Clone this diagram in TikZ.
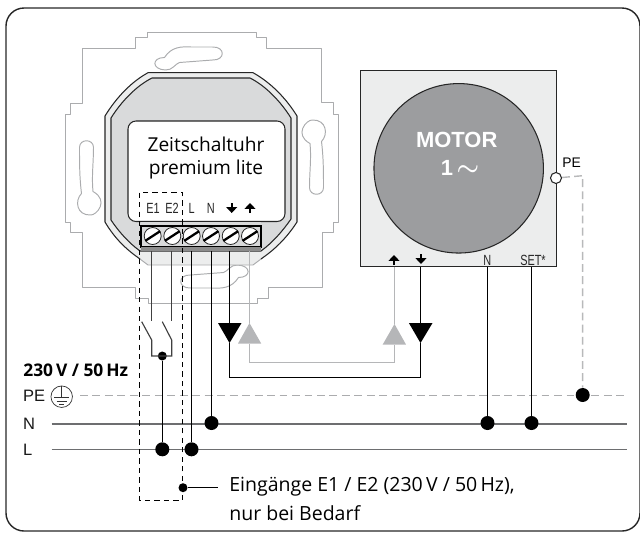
\documentclass[tikz,border=0pt]{standalone}
\usepackage{fontspec}
\usepackage{amsmath}
\setmainfont{Open Sans}
\newfontfamily\helvfont{Liberation Sans}
\newfontfamily\narrowfont[FakeStretch=0.74]{Liberation Sans}
\usetikzlibrary{arrows.meta}
\definecolor{platelight}{HTML}{ECEDED}
\definecolor{platemid}{HTML}{D9DADB}
\definecolor{motorgray}{HTML}{9C9D9F}
\definecolor{busgray}{HTML}{6D6E70}
\definecolor{wiregray}{HTML}{B5B6B8}
\definecolor{outlinegray}{HTML}{ABACAE}
\tikzstyle{frameline}=[black!85, line width=0.8pt, rounded corners=0.36cm]
\tikzstyle{plateline}=[outlinegray, line width=0.55pt, line join=round]
\tikzstyle{caseline}=[black!85, line width=0.6pt]
\tikzstyle{screwnode}=[circle, draw=black!85, fill=white, line width=0.45pt, inner sep=0, minimum size=0.34cm]
\tikzstyle{screwline}=[black, line width=1.3pt]
\tikzstyle{dotnode}=[circle, fill=black, inner sep=0, minimum size=0.28cm]
\tikzstyle{smalldot}=[circle, fill=black, inner sep=0, minimum size=0.18cm]
\tikzstyle{blackline}=[black, line width=0.6pt]
\tikzstyle{darkline}=[black!75, line width=0.65pt]
\tikzstyle{grayline}=[wiregray, line width=0.75pt]
\tikzstyle{busline}=[busgray, line width=0.85pt]
\tikzstyle{boxline}=[black, line width=0.7pt, dash pattern=on 3pt off 2.4pt]
\tikzstyle{pebus}=[outlinegray, line width=0.4pt, dash pattern=on 4.5pt off 2.6pt]
\tikzstyle{peline}=[platemid!85!black, line width=0.8pt, dash pattern=on 4.5pt off 2.4pt]
\tikzstyle{marktip}=[black, line width=1.2pt, -{Triangle[width=6.2pt,length=3.4pt]}]
\tikzstyle{termtext}=[font=\narrowfont\fontsize{8.4}{9}\selectfont, text=black!85, inner sep=0]
\tikzstyle{sidetext}=[font=\helvfont\fontsize{9.4}{11}\selectfont, text=black!90, inner sep=0, anchor=west]
\newcommand{\drawslot}{
  (-37,-110) .. controls (-30,-121) and (-20,-121) .. (-10,-120.5) -- (11,-120.5)
  .. controls (24,-121) and (24,-107) .. (11,-107.5) -- (-22,-105)
  .. controls (-26,-104) and (-29,-97) .. (-36,-97.5)
  .. controls (-50,-98) and (-50,-110) .. (-37,-110) -- cycle
}
\newcommand{\drawsideslot}{
  (-122,-20) .. controls (-122,-29) and (-108,-29) .. (-108,-20)
  .. controls (-108,-5) and (-110,10) .. (-108.5,24)
  .. controls (-92,33) and (-105,48) .. (-111,47.5)
  .. controls (-125,48) and (-127,33) .. (-120,26)
  .. controls (-122,10) and (-122,-5) .. (-122,-20) -- cycle
}
\newcommand{\drawupmark}[1]{\draw[marktip] ([yshift=-0.1cm]#1) -- ([yshift=0.1cm]#1);}
\newcommand{\drawdownmark}[1]{\draw[marktip] ([yshift=0.1cm]#1) -- ([yshift=-0.1cm]#1);}

\begin{document}
\begin{tikzpicture}[x=0.02cm, y=-0.02cm]
  \useasboundingbox (0,0) rectangle (640,532);
  \draw[frameline] (6,8) rectangle (640,531);

  % mounting plate
  \draw[plateline] (65,114) -- (70,114) -- (70,103) -- (82,103) -- (82,48) -- (135,48) -- (135,37.5) -- (147,37.5) -- (147,32)
    -- (256,32) -- (256,37) -- (266,37) -- (266,48) -- (321,48) -- (321,102) -- (333,102) -- (333,114) -- (338,114)
    -- (338,222) -- (333,222) -- (333,232) -- (322,232) -- (322,287) -- (268,287) -- (268,298) -- (257,298) -- (257,303)
    -- (148,303) -- (148,298) -- (135,298) -- (135,287) -- (82,287) -- (82,232) -- (70,232) -- (70,222) -- (65,222) -- cycle;
  \draw[plateline, shift={(201.5,167.5)}] \drawslot;
  \draw[plateline, shift={(201.5,167.5)}, rotate=180] \drawslot;
  \draw[plateline, shift={(201.5,167.5)}] \drawsideslot;
  \draw[plateline, shift={(201.5,167.5)}, rotate=180] \drawsideslot;

  % timer case
  \fill[platelight] (148,72.7) -- (253,72.7) .. controls (270,82) and (286,98) .. (297,116) -- (297,222)
    .. controls (286,239) and (274,250) .. (261,259) -- (253,265) -- (148,265) -- (140,259) .. controls (127,250) and (115,239) .. (105,222)
    -- (105,116) .. controls (116,98) and (131,82) .. (148,72.7) -- cycle;
  \draw[plateline] (140,259) -- (148,265) -- (253,265) -- (261,259);
  \draw[caseline] (140,259) .. controls (127,250) and (115,239) .. (105,222) -- (105,116)
    .. controls (116,98) and (131,82) .. (148,72.7) -- (253,72.7) .. controls (270,82) and (286,98) .. (297,116) -- (297,222)
    .. controls (286,239) and (274,250) .. (261,259);
  \draw[caseline, fill=platemid] (152,78) -- (250,78) .. controls (266,86) and (281,102) .. (291,118) -- (291,219)
    .. controls (282,232) and (272,243) .. (261,251) -- (140,251) .. controls (129,243) and (119,232) .. (111,220)
    -- (111,118) .. controls (121,102) and (136,86) .. (152,78) -- cycle;
  \draw[caseline, fill=white, rounded corners=0.16cm] (128,121) rectangle (285,221.5);
  \node[inner sep=0, font=\fontsize{10.9}{14}\selectfont] (TITLE1) at (206,144) {Zeitschaltuhr};
  \node[inner sep=0, font=\fontsize{10.9}{14}\selectfont] (TITLE2) at (206,170) {premium lite};

  % coordinates of the wires
  \coordinate (W1) at (151.7,247);
  \coordinate (W2) at (171.7,247);
  \coordinate (W3) at (191.5,247);
  \coordinate (W4) at (211.5,247);
  \coordinate (W5) at (229.5,247);
  \coordinate (W6) at (249.5,247);
  \coordinate (S1) at (151.7,320.7);
  \coordinate (S2) at (171.7,320.7);
  \coordinate (S3) at (141.7,321.7);
  \coordinate (S4) at (162.3,321.7);
  \coordinate (S5) at (151.7,340);
  \coordinate (S6) at (171.7,340);
  \coordinate (S7) at (151.7,356);
  \coordinate (S8) at (171.7,356);
  \coordinate (C1) at (229.5,377.5);
  \coordinate (C2) at (420.5,377.5);
  \coordinate (C3) at (249.5,362.5);
  \coordinate (C4) at (394.5,362.5);
  \coordinate (M1) at (394.5,267);
  \coordinate (M2) at (420.5,267);
  \coordinate (M3) at (487.5,267);
  \coordinate (M4) at (531.5,267);

  % triangles
  \coordinate (TD1) at (229.5,343);
  \coordinate (TD2) at (420.5,343);
  \coordinate (TU1) at (249.5,323);
  \coordinate (TU2) at (394.5,324);
  \coordinate (TB1) at (229.5,323);
  \coordinate (TB2) at (420.5,323);
  \coordinate (TB3) at (249.5,343.5);
  \coordinate (TB4) at (394.5,344.5);
  \fill[black] (218,323) -- (241.5,323) -- (TD1) -- cycle;
  \fill[black] (408.9,323) -- (432.5,323) -- (TD2) -- cycle;
  \fill[wiregray] (238,343.5) -- (261.2,343.5) -- (TU1) -- cycle;
  \fill[wiregray] (382.7,344.5) -- (406,344.5) -- (TU2) -- cycle;

  % buses
  \node[sidetext] (PE) at (22.7,395.7) {PE};
  \node[sidetext] (N) at (22.7,424) {N};
  \node[sidetext] (L) at (22.7,449.7) {L};
  \coordinate (PEA) at (80,395.5);
  \coordinate (PEB) at (626.7,395.5);
  \coordinate (NA) at (51.7,424);
  \coordinate (NB) at (626.7,424);
  \coordinate (LA) at (51.7,449.7);
  \coordinate (LB) at (626.7,449.7);
  \draw[pebus] (PEA) -- (PEB);
  \draw[busline] (NA) -- (NB);
  \draw[busline] (LA) -- (LB);
  \node[circle, draw=black!80, line width=0.4pt, inner sep=0, minimum size=0.43cm] (GND) at (61.7,396.7) {};
  \draw[black!80, line width=0.4pt] (GND.north) -- (GND.center);
  \draw[black!80, line width=0.4pt] (54.3,397.3) -- (69.3,397.3);
  \draw[black!80, line width=0.4pt] (56.7,401) -- (66.7,401);
  \draw[black!80, line width=0.4pt] (59,404.2) -- (64.3,404.2);

  % dots
  \node[dotnode] (D1) at (162.3,449.3) {};
  \node[dotnode] (D2) at (191.5,449.3) {};
  \node[dotnode] (D3) at (211.5,423) {};
  \node[dotnode] (D4) at (487.5,423) {};
  \node[dotnode] (D5) at (531.5,423) {};
  \node[dotnode] (D6) at (582.7,395) {};
  \node[smalldot] (D7) at (162.3,356) {};
  \node[smalldot] (D8) at (183,487.7) {};

  % wires
  \draw[darkline] (W1) -- (S1);
  \draw[darkline] (W2) -- (S2);
  \draw[blackline] (W3) -- (D2);
  \draw[blackline] (W4) -- (D3);
  \draw[blackline] (W5) -- (TB1);
  \draw[grayline] (W6) -- (TU1);
  \draw[blackline] (TD1) -- (C1) -- (C2) -- (TD2);
  \draw[blackline] (TB2) -- (M2);
  \draw[grayline] (TB3) -- (C3) -- (C4) -- (TB4);
  \draw[grayline] (TU2) -- (M1);
  \draw[blackline] (M3) -- (D4);
  \draw[blackline] (M4) -- (D5);
  \draw[darkline] (S3) -- (S5) -- (S7) -- (S8) -- (S6) -- (S4);
  \draw[blackline] (D7) -- (D1);

  % terminal block
  \fill[platemid] (141,222) rectangle (261,226);
  \draw[black, line width=0.7pt, fill=platemid] (141,226) rectangle (261,247);
  \fill[black!45] (141,247) rectangle (261,251);
  \node[screwnode] (T1) at (152.7,236) {};
  \node[screwnode] (T2) at (172.3,236) {};
  \node[screwnode] (T3) at (191.7,236) {};
  \node[screwnode] (T4) at (211,236) {};
  \node[screwnode] (T5) at (230.7,236) {};
  \node[screwnode] (T6) at (250,236) {};
  \draw[screwline] (T1.213) -- (T1.33);
  \draw[screwline] (T2.213) -- (T2.33);
  \draw[screwline] (T3.213) -- (T3.33);
  \draw[screwline] (T4.213) -- (T4.33);
  \draw[screwline] (T5.213) -- (T5.33);
  \draw[screwline] (T6.213) -- (T6.33);

  % terminal labels
  \node[termtext] (E1) at (153,208) {E1};
  \node[termtext] (E2) at (172,208) {E2};
  \node[termtext] (TL) at (191.7,208) {L};
  \node[termtext] (TN) at (210.7,208) {N};
  \coordinate (A1) at (231.7,208);
  \coordinate (A2) at (250,208);
  \drawdownmark{A1}
  \drawupmark{A2}

  % motor
  \draw[caseline, fill=platelight] (360.7,70.7) rectangle (556.7,266.7);
  \node[circle, draw=black!85, fill=motorgray, line width=0.6pt, inner sep=0, minimum size=3.39cm] (MOTOR) at (458.7,168.3) {};
  \node[inner sep=0, text=white, font=\helvfont\bfseries\fontsize{12.5}{15}\selectfont] (MT1) at (456.7,140) {MOTOR};
  \node[inner sep=0, text=white, font=\helvfont\bfseries\fontsize{12.5}{15}\selectfont] (MT2) at (460,168) {1\,\smash{\fontsize{15}{15}\selectfont\boldmath$\sim$}};
  \node[circle, draw=black!85, fill=white, line width=0.6pt, inner sep=0, minimum size=0.22cm] (PEM) at (556,178) {};
  \node[inner sep=0, font=\helvfont\fontsize{7.9}{9}\selectfont] (PET) at (571.7,163) {PE};
  \coordinate (PEC) at (582.7,175.7);
  \draw[peline] (PEM) -- (PEC) -- (D6);
  \coordinate (A3) at (394,260);
  \coordinate (A4) at (421,259);
  \drawupmark{A3}
  \drawdownmark{A4}
  \node[termtext] (MN) at (487.3,260) {N};
  \node[termtext] (MS) at (533,260) {SET*};

  % dashed box
  \draw[boxline] (139.5,192.7) rectangle (182.5,500.3);

  % texts
  \node[inner sep=0, anchor=west, font=\bfseries\fontsize{9.9}{12}\selectfont] (VOLT) at (23,370) {230\,V / 50\,Hz};
  \node[inner sep=0, anchor=west, font=\fontsize{11.1}{14}\selectfont] (EIN1) at (229,487) {Eingänge E1 / E2 (230\,V / 50\,Hz),};
  \node[inner sep=0, anchor=west, font=\fontsize{11.1}{14}\selectfont] (EIN2) at (229,513) {nur bei Bedarf};
  \coordinate (EINC) at (218.3,487.7);
  \draw[black, line width=0.8pt] (D8) -- (EINC);
\end{tikzpicture}
\end{document}
